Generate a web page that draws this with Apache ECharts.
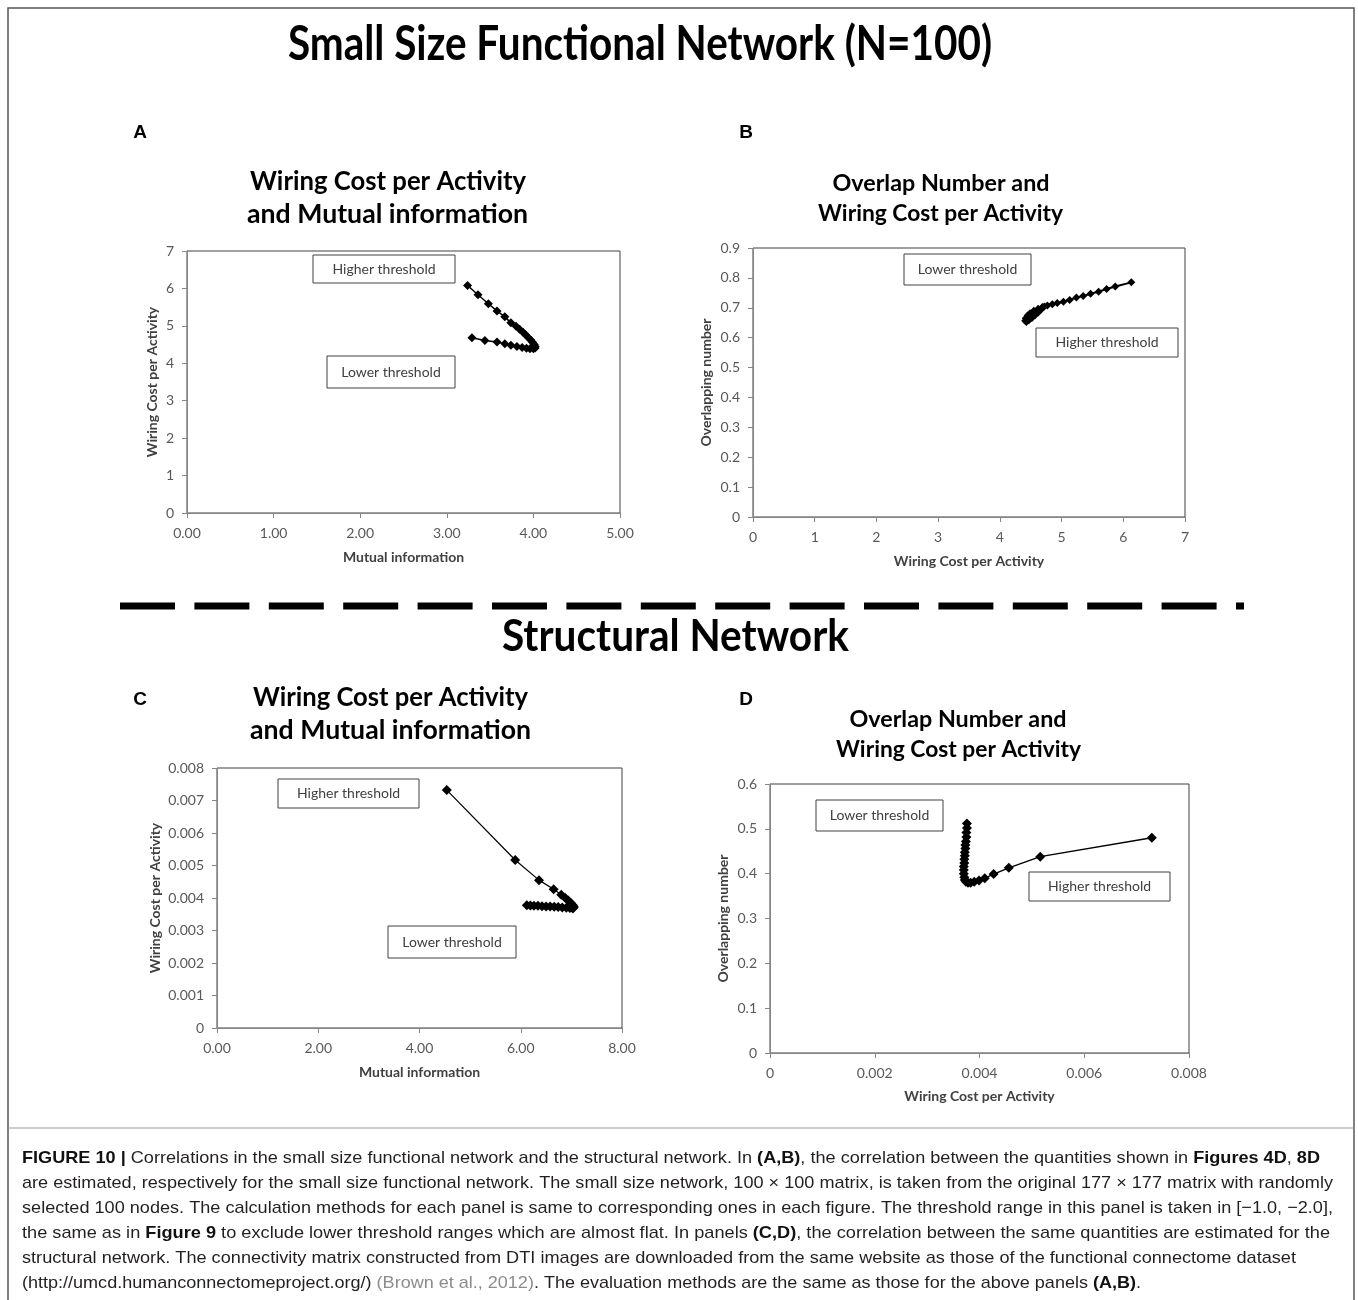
<!DOCTYPE html>
<html>
<head>
    <meta charset="utf-8">
    <title>Figure 10</title>
    <script src="https://cdn.jsdelivr.net/npm/echarts@6.0.0/dist/echarts.min.js"></script>
    <style>
        body { margin: 0; background: #fff; }
    </style>
</head>
<body>
    <div id="main" style="width: 1358px;height:1300px;"></div>
    <script type="text/javascript">
        // panel A: mutual information vs wiring cost (small functional network)
        var miA = [3.24, 3.36, 3.48, 3.58, 3.67, 3.74, 3.80, 3.84, 3.88, 3.91, 3.94, 3.97, 3.99, 4.01, 4.02, 4.02, 4.00, 3.96, 3.92, 3.87, 3.81, 3.74, 3.67, 3.58, 3.44, 3.29];
        var wcA = [6.08, 5.83, 5.59, 5.40, 5.24, 5.08, 4.99, 4.91, 4.83, 4.76, 4.69, 4.62, 4.56, 4.50, 4.45, 4.41, 4.39, 4.39, 4.40, 4.42, 4.45, 4.48, 4.52, 4.57, 4.61, 4.68];
        // panel B: wiring cost vs overlapping number
        var wcB = [6.13, 5.87, 5.73, 5.60, 5.47, 5.35, 5.24, 5.13, 5.03, 4.93, 4.85, 4.77, 4.69, 4.62, 4.55, 4.49, 4.45, 4.42, 4.41, 4.43, 4.47, 4.52, 4.57, 4.62, 4.67, 4.72];
        var ovB = [0.785, 0.771, 0.763, 0.754, 0.747, 0.739, 0.734, 0.726, 0.720, 0.716, 0.712, 0.708, 0.703, 0.697, 0.690, 0.682, 0.674, 0.665, 0.657, 0.652, 0.658, 0.666, 0.675, 0.684, 0.694, 0.704];
        // panel C: structural network
        var miC = [4.54, 5.89, 6.36, 6.65, 6.80, 6.88, 6.94, 6.99, 7.03, 7.05, 7.03, 6.97, 6.90, 6.82, 6.74, 6.66, 6.58, 6.50, 6.42, 6.34, 6.26, 6.19, 6.12];
        var wcC = [0.00732, 0.00517, 0.00455, 0.00427, 0.00410, 0.00400, 0.00392, 0.00385, 0.00378, 0.00372, 0.00368, 0.00369, 0.00370, 0.00371, 0.00372, 0.00373, 0.00374, 0.00374, 0.00375, 0.00376, 0.00376, 0.00377, 0.00378];
        // panel D
        var wcD = [0.00729, 0.00516, 0.00456, 0.00427, 0.00410, 0.00399, 0.00390, 0.00383, 0.00378, 0.00374, 0.00372, 0.00371, 0.00370, 0.00370, 0.00370, 0.00371, 0.00371, 0.00372, 0.00372, 0.00373, 0.00373, 0.00374, 0.00375, 0.00375, 0.00376, 0.00376];
        var ovD = [0.480, 0.438, 0.413, 0.399, 0.390, 0.385, 0.382, 0.380, 0.380, 0.382, 0.386, 0.392, 0.400, 0.408, 0.416, 0.424, 0.432, 0.440, 0.448, 0.456, 0.464, 0.472, 0.482, 0.492, 0.502, 0.512];

        var captionLines = [
            [['FIGURE 10 |', 'b'], [' Correlations in the small size functional network and the structural network. In ', 'n'], ['(A,B)', 'b'], [', the correlation between the quantities shown in ', 'n'], ['Figures 4D', 'b'], [', ', 'n'], ['8D', 'b']],
            [['are estimated, respectively for the small size functional network. The small size network, 100 \u00d7 100 matrix, is taken from the original 177 \u00d7 177 matrix with randomly', 'n']],
            [['selected 100 nodes. The calculation methods for each panel is same to corresponding ones in each figure. The threshold range in this panel is taken in [\u22121.0, \u22122.0],', 'n']],
            [['the same as in ', 'n'], ['Figure 9', 'b'], [' to exclude lower threshold ranges which are almost flat. In panels ', 'n'], ['(C,D)', 'b'], [', the correlation between the same quantities are estimated for the', 'n']],
            [['structural network. The connectivity matrix constructed from DTI images are downloaded from the same website as those of the functional connectome dataset', 'n']],
            [['(http://umcd.humanconnectomeproject.org/) ', 'n'], ['(Brown et al., 2012)', 'g'], ['. The evaluation methods are the same as those for the above panels ', 'n'], ['(A,B)', 'b'], ['.', 'n']]
        ];
        var captionWidths = [1298, 1311, 1311, 1308, 1274, 1119];

        function zip(a, b) {
            return a.map(function(v, i) { return [v, b[i]]; });
        }

        var measureCtx = document.createElement('canvas').getContext('2d');
        function measure(str, font) {
            measureCtx.font = font;
            return measureCtx.measureText(str).width;
        }

        function title(str, cx, cy, size, width) {
            var font = 'bold ' + size + 'px Lato';
            return {
                type: 'text', x: cx, y: cy, scaleX: width / measure(str, font),
                style: { text: str, font: font, fill: '#000', align: 'center', verticalAlign: 'middle', textAlign: 'center', textVerticalAlign: 'middle' }
            };
        }

        function plain(str, x, y, font, fill, align) {
            return {
                type: 'text', x: x, y: y,
                style: { text: str, font: font, fill: fill, align: align || 'center', verticalAlign: 'middle', textAlign: align || 'center', textVerticalAlign: 'middle' }
            };
        }

        function box(str, x, y, w, h) {
            return [{
                type: 'rect', shape: { x: x, y: y, width: w, height: h },
                style: { fill: '#fff', stroke: '#404040', lineWidth: 1 }
            }, plain(str, x + w / 2, y + h / 2, '14px Lato', '#404040')];
        }

        var capFonts = {
            n: { font: '17px "Liberation Sans"', fill: '#231f20' },
            b: { font: 'bold 17px "Liberation Sans"', fill: '#111' },
            g: { font: '17px "Liberation Sans"', fill: '#8c8c8c' }
        };

        function captionLine(segs, y, width) {
            var x = 0, kids = [];
            segs.forEach(function(s) {
                var f = capFonts[s[1]];
                kids.push(plain(s[0], x, 0, f.font, f.fill, 'left'));
                x += measure(s[0], f.font);
            });
            return { type: 'group', x: 22, y: y, scaleX: width / x, children: kids };
        }

        var elements = [
            { type: 'rect', shape: { x: 8, y: 8, width: 1346, height: 1320 }, style: { fill: 'none', stroke: '#555', lineWidth: 1.5 } },
            { type: 'line', shape: { x1: 8, y1: 1128, x2: 1354, y2: 1128 }, style: { stroke: '#999', lineWidth: 1 } },
            title('Small Size Functional Network (N=100)', 640, 45, 48, 704),
            title('Structural Network', 675.5, 637, 43, 347),
            { type: 'line', shape: { x1: 120, y1: 606, x2: 1244, y2: 606 }, style: { stroke: '#000', lineWidth: 7, lineDash: [55, 19.4] } },
            plain('A', 140, 133, 'bold 19px "Liberation Sans"', '#000'),
            plain('B', 746, 133, 'bold 19px "Liberation Sans"', '#000'),
            plain('C', 140, 700, 'bold 19px "Liberation Sans"', '#000'),
            plain('D', 746, 700, 'bold 19px "Liberation Sans"', '#000'),
            title('Wiring Cost per Activity', 388, 182, 26, 276),
            title('and Mutual information', 387.5, 215, 26, 281),
            title('Overlap Number and', 941, 184, 23, 217),
            title('Wiring Cost per Activity', 940.5, 214, 23, 245),
            title('Wiring Cost per Activity', 390.5, 698, 26, 275),
            title('and Mutual information', 390.5, 731, 26, 281),
            title('Overlap Number and', 958, 720, 23, 217),
            title('Wiring Cost per Activity', 958.5, 750, 23, 245)
        ];
        elements = elements
            .concat(box('Higher threshold', 313, 255, 142, 28))
            .concat(box('Lower threshold', 327, 356, 128, 32))
            .concat(box('Lower threshold', 904, 254, 127, 31))
            .concat(box('Higher threshold', 1036, 328, 142, 29))
            .concat(box('Higher threshold', 278, 779, 141, 29))
            .concat(box('Lower threshold', 388, 926, 128, 32))
            .concat(box('Lower threshold', 816, 800, 127, 31))
            .concat(box('Higher threshold', 1029, 872, 141, 29));
        captionLines.forEach(function(segs, i) {
            elements.push(captionLine(segs, 1158 + i * 25, captionWidths[i]));
        });

        function axis(grid, min, max, interval, name, gap, fmt) {
            return {
                type: 'value', gridIndex: grid, min: min, max: max, interval: interval,
                name: name, nameLocation: 'middle', nameGap: gap,
                nameTextStyle: { fontFamily: 'Lato', fontWeight: 'bold', fontSize: 14, color: '#404040' },
                axisLine: { show: true, onZero: false, lineStyle: { color: '#868686', width: 1 } },
                axisTick: { show: true, length: 5, lineStyle: { color: '#868686' } },
                axisLabel: { color: '#595959', fontFamily: 'Lato', fontSize: 14, margin: 13, formatter: fmt },
                splitLine: { show: false }
            };
        }
        function fixed(n) {
            return function(v) { return v === 0 ? '0' : v.toFixed(n); };
        }

        function series(idx, data, size, width) {
            return {
                type: 'line', xAxisIndex: idx, yAxisIndex: idx, data: data,
                symbol: 'diamond', symbolSize: size, showSymbol: true,
                lineStyle: { color: '#000', width: width },
                itemStyle: { color: '#000' },
                animation: false
            };
        }

        var gridStyle = { show: true, borderColor: '#404040', borderWidth: 1, backgroundColor: 'transparent' };

        var myChart = echarts.init(document.getElementById('main'));
        var option = {
            backgroundColor: '#fff',
            animation: false,
            grid: [
                Object.assign({ left: 187, top: 251, width: 433, height: 262 }, gridStyle),
                Object.assign({ left: 753, top: 248, width: 432, height: 269 }, gridStyle),
                Object.assign({ left: 217, top: 768, width: 405, height: 260 }, gridStyle),
                Object.assign({ left: 770, top: 784, width: 419, height: 269 }, gridStyle)
            ],
            xAxis: [
                axis(0, 0, 5, 1, 'Mutual information', 37, function(v) { return v.toFixed(2); }),
                axis(1, 0, 7, 1, 'Wiring Cost per Activity', 37),
                axis(2, 0, 8, 2, 'Mutual information', 37, function(v) { return v.toFixed(2); }),
                axis(3, 0, 0.008, 0.002, 'Wiring Cost per Activity', 36, fixed(3))
            ],
            yAxis: [
                axis(0, 0, 7, 1, 'Wiring Cost per Activity', 28),
                axis(1, 0, 0.9, 0.1, 'Overlapping number', 40, fixed(1)),
                axis(2, 0, 0.008, 0.001, 'Wiring Cost per Activity', 55, fixed(3)),
                axis(3, 0, 0.6, 0.1, 'Overlapping number', 40, fixed(1))
            ],
            series: [
                series(0, zip(miA, wcA), 9, 1.5),
                series(1, zip(wcB, ovB), 8, 2),
                series(2, zip(miC, wcC), 10, 1.2),
                series(3, zip(wcD, ovD), 10, 1.5)
            ],
            graphic: { elements: elements }
        };
        myChart.setOption(option);
    </script>
</body>
</html>
